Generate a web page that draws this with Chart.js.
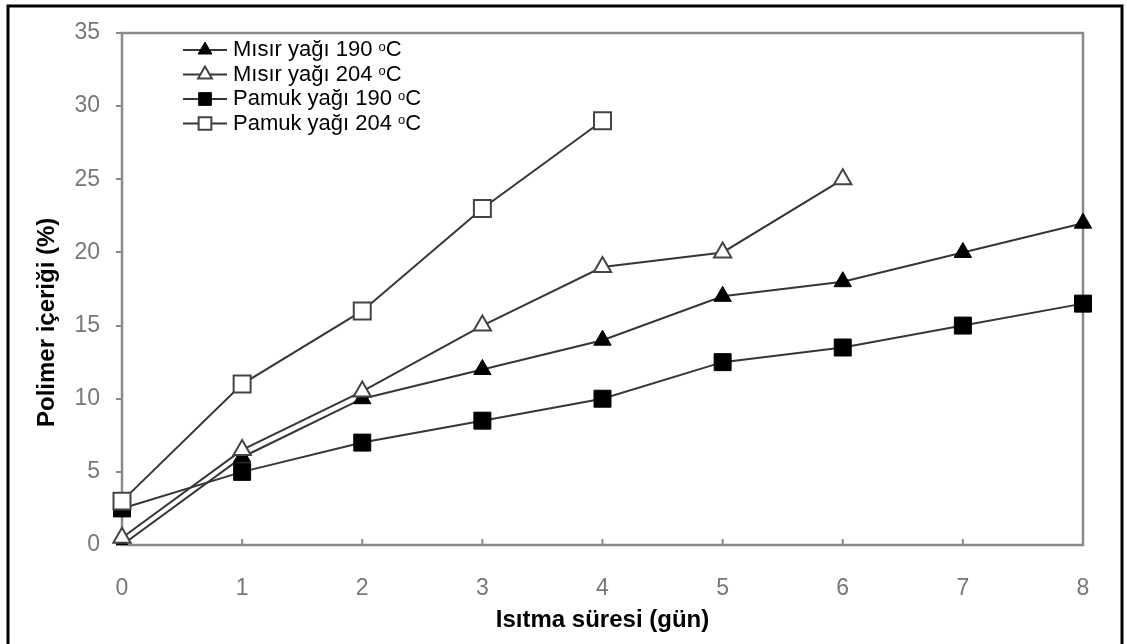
<!DOCTYPE html>
<html>
<head>
<meta charset="utf-8">
<script src="https://cdn.jsdelivr.net/npm/chart.js@4.4.1/dist/chart.umd.min.js"></script>
<style>
  body { margin: 0; background: #fff; }
  #wrap { position: relative; width: 1127px; height: 644px; }
</style>
</head>
<body>
<div id="wrap"><canvas id="polyChart"></canvas></div>
<script>
// values
const days = [0, 1, 2, 3, 4, 5, 6, 7, 8];
const misir190 = [0, 6, 10, 12, 14, 17, 18, 20, 22];
const misir204 = [0.5, 6.5, 10.5, 15, 19, 20, 25];
const pamuk190 = [2.5, 5, 7, 8.5, 10, 12.5, 13.5, 15, 16.5];
const pamuk204 = [3, 11, 16, 23, 29];
const seriesNames = ['Mısır yağı 190 ', 'Mısır yağı 204 ', 'Pamuk yağı 190 ', 'Pamuk yağı 204 '];

const lineColor = '#363636';
const frameColor = '#8a8a8a';
const tickColor = '#777';
const font = '"Liberation Sans", Arial, sans-serif';

function series(label, data, style, filled, order) {
    return {
        label: label,
        data: data,
        borderColor: lineColor,
        borderWidth: 2,
        pointStyle: style,
        pointRadius: style === 'triangle' ? 10 : 12,
        pointBackgroundColor: filled ? '#000' : '#fff',
        pointBorderColor: filled ? '#000' : '#444',
        pointBorderWidth: filled ? 1 : 2,
        tension: 0,
        order: order
    };
}

// frame, inner x ticks, legend and outer border
const extras = {
    id: 'extras',
    beforeDatasetsDraw(chart) {
        const ctx = chart.ctx, a = chart.chartArea, xs = chart.scales.x;
        ctx.save();
        ctx.strokeStyle = frameColor;
        ctx.lineWidth = 2.5;
        ctx.strokeRect(a.left, a.top, a.right - a.left, a.bottom - a.top);
        ctx.lineWidth = 2;
        days.forEach(function(d, i) {
            const x = xs.getPixelForValue(i);
            ctx.beginPath();
            ctx.moveTo(x, a.bottom);
            ctx.lineTo(x, a.bottom - 6);
            ctx.stroke();
        });
        ctx.restore();
    },
    afterDraw(chart) {
        const ctx = chart.ctx;
        ctx.save();
        chart.data.datasets.forEach(function(ds, i) {
            const y = 50 + i * 24.5;
            ctx.strokeStyle = lineColor;
            ctx.lineWidth = 2;
            ctx.beginPath();
            ctx.moveTo(183, y);
            ctx.lineTo(227, y);
            ctx.stroke();
            ctx.fillStyle = ds.pointBackgroundColor;
            ctx.strokeStyle = ds.pointBorderColor;
            ctx.lineWidth = ds.pointBorderWidth;
            Chart.helpers.drawPoint(ctx, {
                pointStyle: ds.pointStyle,
                radius: ds.pointStyle === 'triangle' ? 8 : 9,
                rotation: 0,
                borderWidth: ds.pointBorderWidth
            }, 205, y);
            ctx.fillStyle = '#000';
            ctx.textBaseline = 'middle';
            ctx.textAlign = 'left';
            ctx.font = '22px ' + font;
            const name = seriesNames[i];
            ctx.fillText(name, 233, y);
            let x = 233 + ctx.measureText(name).width;
            ctx.font = '13px ' + font;
            ctx.fillText('o', x, y - 3);
            x += ctx.measureText('o').width;
            ctx.font = '22px ' + font;
            ctx.fillText('C', x, y);
        });
        // outer black border
        ctx.strokeStyle = '#000';
        ctx.lineWidth = 3;
        ctx.beginPath();
        ctx.moveTo(8, 644);
        ctx.lineTo(8, 6);
        ctx.lineTo(1122, 6);
        ctx.lineTo(1122, 644);
        ctx.stroke();
        ctx.restore();
    }
};

new Chart(document.getElementById('polyChart'), {
    type: 'line',
    data: {
        labels: days,
        datasets: [
            series(seriesNames[0], misir190, 'triangle', true, 4),
            series(seriesNames[1], misir204, 'triangle', false, 2),
            series(seriesNames[2], pamuk190, 'rect', true, 3),
            series(seriesNames[3], pamuk204, 'rect', false, 1)
        ]
    },
    options: {
        responsive: true,
        maintainAspectRatio: false,
        animation: false,
        layout: { padding: { top: 33, right: 44, left: 0, bottom: 0 } },
        plugins: {
            legend: { display: false },
            tooltip: { enabled: false }
        },
        scales: {
            x: {
                type: 'category',
                offset: false,
                border: { display: false },
                grid: { display: false, drawTicks: false },
                ticks: {
                    padding: 30,
                    color: tickColor,
                    font: { family: font, size: 23 },
                    maxRotation: 0
                },
                title: {
                    display: true,
                    text: 'Isıtma süresi (gün)',
                    color: '#000',
                    font: { family: font, size: 24, weight: 'bold' },
                    padding: { top: 0, bottom: 9 }
                },
                afterFit(scale) { scale.height = 99; }
            },
            y: {
                min: 0,
                max: 35,
                border: { display: false },
                grid: {
                    drawOnChartArea: false,
                    drawTicks: true,
                    tickLength: 6,
                    tickColor: frameColor,
                    lineWidth: 2
                },
                ticks: {
                    stepSize: 5,
                    padding: 16,
                    color: tickColor,
                    font: { family: font, size: 23 }
                },
                title: {
                    display: true,
                    text: 'Polimer içeriği (%)\u00a0\u00a0\u00a0\u00a0\u00a0\u00a0\u00a0\u00a0\u00a0\u00a0',
                    color: '#000',
                    font: { family: font, size: 24, weight: 'bold' },
                    padding: { top: 33, bottom: 0 }
                },
                afterFit(scale) { scale.width = 122; }
            }
        }
    },
    plugins: [extras]
});
</script>
</body>
</html>
